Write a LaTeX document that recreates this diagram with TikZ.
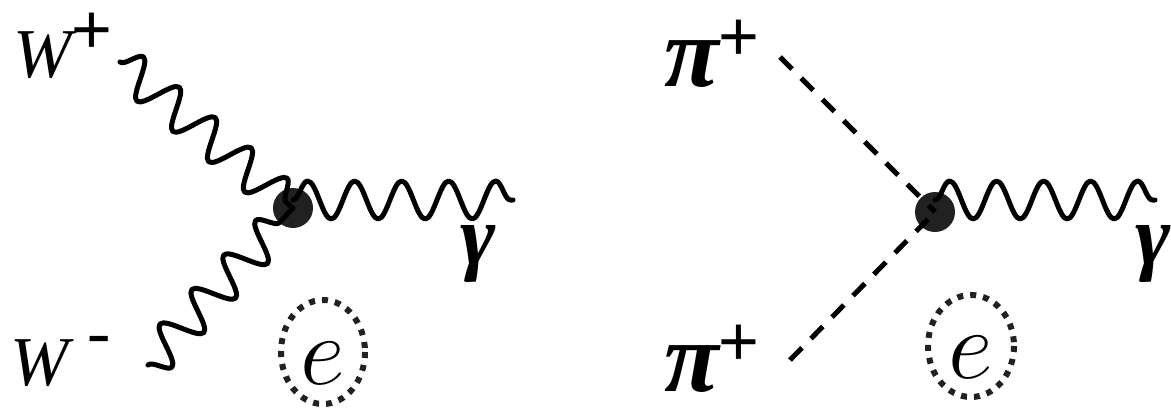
\RequirePackage{fix-cm}
\documentclass[tikz,border=0pt]{standalone}
\usepackage{fontspec}
\newfontfamily\tmsit{Liberation Serif Italic}
\newfontfamily\tmsbi{Liberation Serif Bold Italic}
\newfontfamily\tms{Liberation Serif}
\newfontfamily\arl{Liberation Sans}
\usetikzlibrary{decorations.pathmorphing}
\tikzset{
  every picture/.style={line join=round, line cap=round},
  vertex/.style={circle, fill=black!87, minimum size=40pt, inner sep=0pt},
  boson/.style={line width=5pt, decorate, decoration={snake, amplitude=19pt, segment length=47pt}},
  scalar/.style={line width=5pt, line cap=butt, dash pattern=on 17pt off 13pt},
  ring/.style={line width=6pt, line cap=butt, dash pattern=on 6pt off 7pt, black!87},
  lbl/.style={inner sep=0pt, anchor=base west, font=\fontsize{70}{80}\selectfont},
  big/.style={inner sep=0pt, font=\fontsize{98}{110}\selectfont},
  gam/.style={inner sep=0pt, font=\fontsize{85}{95}\selectfont},
}

\begin{document}
\begin{tikzpicture}[x=1pt,y=-1pt]
\useasboundingbox (0,0) rectangle (1171,408);
% left: W+ W- -> gamma
\node[vertex] (vL) at (293,208) {};
\coordinate (wpL) at (120,62);
\coordinate (wmL) at (148,365);
\coordinate (gL) at (513,200);
\draw[boson] (wpL) -- (vL.center);
\draw[boson, decoration={amplitude=-19pt}] (wmL) -- (vL.center);
\draw[boson] (vL.center |- gL) -- (gL);
\node[lbl] (Wp) at (13,77) {{\tmsit W}\raisebox{24pt}{\arl +}};
\node[lbl] (Wm) at (10,385) {{\tmsit W}\hspace{19pt}\raisebox{30pt}{\tms -}};
\node[gam] (gamL) at (478,254) {\tmsbi γ};
\node[big] (eL) at (323,363) {$e$};
\draw[ring] ([yshift=11pt]eL.center) ellipse [x radius=42, y radius=52];
% right: pi+ pi+ -> gamma
\node[vertex] (vR) at (935,212) {};
\coordinate (ppR) at (780,57);
\coordinate (pmR) at (790,360);
\coordinate (gR) at (1155,200);
\draw[scalar] (ppR) -- (vR.center);
\draw[scalar] (pmR) -- (vR.center);
\draw[boson] (vR.center |- gR) -- (gR);
\node[lbl] (pip) at (664,86) {{\fontsize{100}{110}\selectfont\tmsbi π}\raisebox{26pt}{\arl +}};
\node[lbl] (pim) at (664,391) {{\fontsize{100}{110}\selectfont\tmsbi π}\raisebox{26pt}{\arl +}};
\node[gam] (gamR) at (1153,254) {\tmsbi γ};
\node[big] (eR) at (971,357) {$e$};
\draw[ring] ([yshift=11pt]eR.center) ellipse [x radius=43, y radius=51];
\end{tikzpicture}
\end{document}
